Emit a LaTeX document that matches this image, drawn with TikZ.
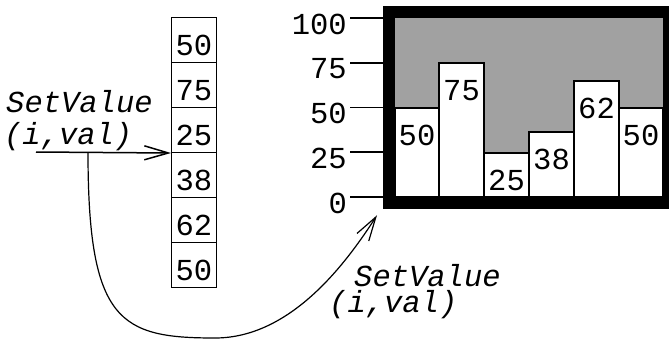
\documentclass[tikz,border=0pt]{standalone}
\usepackage{fontspec}
\setmonofont{Liberation Mono}
\usetikzlibrary{arrows.meta}
\begin{document}
\begin{tikzpicture}[x=1pt,y=-1pt,
  lbl/.style={font=\fontsize{30.5}{30.5}\selectfont\ttfamily, inner sep=0pt},
  call/.style={font=\fontsize{30.5}{30.5}\selectfont\ttfamily\itshape, inner sep=0pt, anchor=base west},
  cell/.style={draw, line width=1pt, minimum width=45pt, minimum height=45pt, inner sep=0pt},
  bar/.style={draw, fill=white, line width=1.2pt},
  shade/.style={fill=black!37},
  frame/.style={draw, line width=12pt, inner sep=0pt},
  tick/.style={line width=1.6pt},
  arr/.style={line width=1.5pt, -{Straight Barb[length=24pt,width=14pt]}},
  curvearr/.style={line width=1.2pt, -{Straight Barb[length=24pt,width=14pt]}}
]
\useasboundingbox (0,0) rectangle (669,338);

% the array of values
\foreach \v [count=\i] in {50,75,25,38,62,50} {
  \node[cell, anchor=north west] (c\i) at (171, {17+45*(\i-1)}) {};
  \node[lbl, anchor=base] (cv\i) at ([yshift=-38pt]c\i.north) {\v};
}

% bar chart: shaded background, bars, frame
\fill[shade] (395,18) rectangle (663,197);
\foreach \xa/\xb/\t/\v [count=\i] in {395/439/108/50, 439/484/63/75, 484/529/153/25, 529/574/132/38, 574/619/81/62, 619/663/108/50} {
  \draw[bar] (\xa,197) rectangle (\xb,\t);
  \node[lbl, anchor=base] (bv\i) at ({(\xa+\xb)/2}, \t+37) {\v};
}
\node[frame, minimum width=280pt, minimum height=191pt] (chart) at (529,107.75) {};

% axis ticks and labels
\foreach \v [count=\i] in {100,75,50,25,0} {
  \pgfmathsetmacro{\yy}{18+44.75*(\i-1)}
  \node[lbl, anchor=base east] (ax\i) at (347,\yy+16) {\v};
  \draw[tick] (350,\yy) -- (383,\yy);
}

% call labels
\node[call] (callA) at (6,112) {SetValue};
\node[call] (callAargs) at (4,144) {(i,val)};
\node[call] (callB) at (354,286) {SetValue};
\node[call] (callBargs) at (329,312) {(i,val)};

% arrows
\coordinate (in) at (36,152);
\coordinate (bend) at (88,152);
\draw[arr] (in) -- (c3.south west);
\draw[curvearr] (bend) .. controls (88,322) and (120,338) .. (215,338)
  .. controls (290,338) and (345,265) .. ([shift={(-6,6)}]chart.south west);
\end{tikzpicture}
\end{document}
